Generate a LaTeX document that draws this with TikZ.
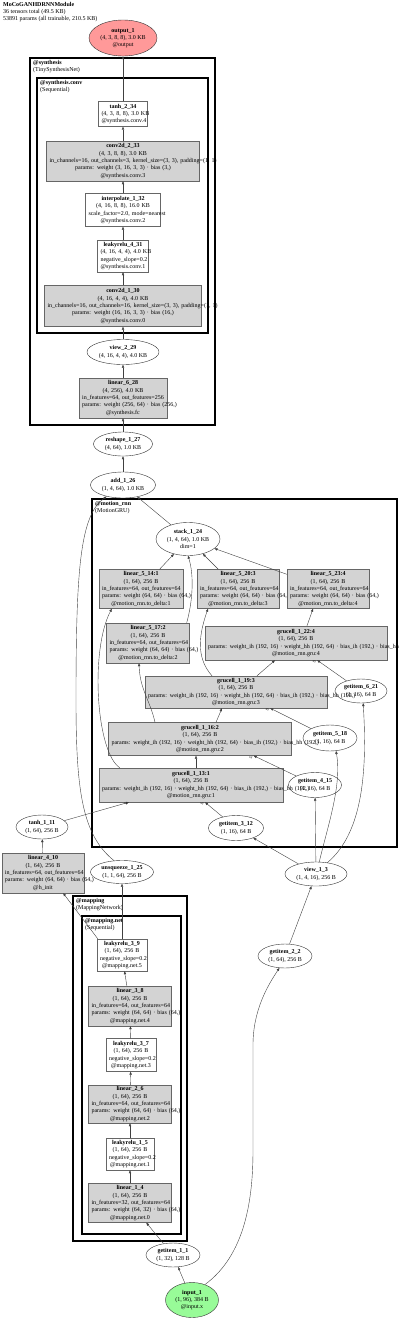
\documentclass[tikz,border=0pt]{standalone}
\usepackage{fontspec}
\setmainfont{Liberation Serif}
\usepackage{xcolor}
\usetikzlibrary{shapes.geometric, arrows.meta, positioning}

\definecolor{layergray}{RGB}{211,211,211}
\definecolor{outred}{RGB}{255,153,153}
\definecolor{ingreen}{RGB}{152,251,152}

\begin{document}
\begin{tikzpicture}[
    x=1pt, y=-1pt,
    every node/.style={font=\fontsize{6}{7.3}\selectfont},
    tensor/.style={ellipse, draw=black!80, inner sep=0pt, align=center},
    fnbox/.style={rectangle, draw=black!60, fill=white, inner xsep=3pt, inner ysep=0pt, align=center},
    layer/.style={rectangle, draw=black!60, fill=layergray, inner xsep=3pt, inner ysep=0pt, align=center},
    cluster/.style={draw=black, line width=2pt},
    clabel/.style={anchor=north west, align=left, inner sep=0pt},
    edge/.style={-{Triangle[length=3pt,width=2.4pt]}, draw=black!75, line width=0.4pt},
    argl/.style={font=\fontsize{3.5}{4}\selectfont, inner sep=0pt}
]
\useasboundingbox (0,0) rectangle (400,1319);

% header
\node (title) [clabel] at (3,2) {\textbf{MoCoGANHDRNNModule}\\36 tensors total (49.5 KB)\\53891 params (all trainable, 210.5 KB)};

% clusters
\draw [cluster] (30,58) rectangle (215,425);
\draw [cluster] (37,78) rectangle (208,333);
\draw [cluster] (92,499) rectangle (397,847);
\draw [cluster] (73,896) rectangle (187,1241);
\draw [cluster] (82,916) rectangle (181,1234);
\node (synthesis_lbl) [clabel] at (33,60) {\textbf{@synthesis}\\(TinySynthesisNet)};
\node (conv_lbl) [clabel] at (40,80) {\textbf{@synthesis.conv}\\(Sequential)};
\node (rnn_lbl) [clabel] at (95,501) {\textbf{@motion\_rnn}\\(MotionGRU)};
\node (mapping_lbl) [clabel] at (76,898) {\textbf{@mapping}\\(MappingNetwork)};
\node (net_lbl) [clabel] at (85,918) {\textbf{@mapping.net}\\(Sequential)};

% synthesis
\node (output_1) [tensor, fill=outred, minimum width=68pt, minimum height=36pt] at (123,38) {\textbf{output\_1}\\\mbox{(4, 3, 8, 8), 3.0 KB}\\@output};
\node (tanh_2_34) [fnbox, text width=43pt, minimum height=25pt] at (123,114) {\textbf{tanh\_2\_34}\\\mbox{(4, 3, 8, 8), 3.0 KB}\\@synthesis.conv.4};
\node (conv2d_2_33) [layer, text width=147pt, minimum height=40pt] at (123,161) {\textbf{conv2d\_2\_33}\\\mbox{(4, 3, 8, 8), 3.0 KB}\\\mbox{in\_channels=16, out\_channels=3, kernel\_size=(3, 3), padding=(1, 1)}\\\mbox{params: weight (3, 16, 3, 3) · bias (3,)}\\@synthesis.conv.3};
\node (interpolate_1_32) [fnbox, text width=69pt, minimum height=33pt] at (123,210) {\textbf{interpolate\_1\_32}\\\mbox{(4, 16, 8, 8), 16.0 KB}\\\mbox{scale\_factor=2.0, mode=nearest}\\@synthesis.conv.2};
\node (leakyrelu_4_31) [fnbox, text width=45pt, minimum height=32pt] at (123,256) {\textbf{leakyrelu\_4\_31}\\\mbox{(4, 16, 4, 4), 4.0 KB}\\negative\_slope=0.2\\@synthesis.conv.1};
\node (conv2d_1_30) [layer, text width=151pt, minimum height=41pt] at (123,306) {\textbf{conv2d\_1\_30}\\\mbox{(4, 16, 4, 4), 4.0 KB}\\\mbox{in\_channels=16, out\_channels=16, kernel\_size=(3, 3), padding=(1, 1)}\\\mbox{params: weight (16, 16, 3, 3) · bias (16,)}\\@synthesis.conv.0};
\node (view_2_29) [tensor, fill=white, minimum width=72pt, minimum height=25pt] at (123,352) {\textbf{view\_2\_29}\\\mbox{(4, 16, 4, 4), 4.0 KB}};
\node (linear_6_28) [layer, text width=82pt, minimum height=40pt] at (123,398) {\textbf{linear\_6\_28}\\\mbox{(4, 256), 4.0 KB}\\\mbox{in\_features=64, out\_features=256}\\\mbox{params: weight (256, 64) · bias (256,)}\\@synthesis.fc};
\node (reshape_1_27) [tensor, minimum width=59pt, minimum height=24pt] at (123,444) {\textbf{reshape\_1\_27}\\\mbox{(4, 64), 1.0 KB}};
\node (add_1_26) [tensor, minimum width=65pt, minimum height=26pt] at (123,485) {\textbf{add\_1\_26}\\\mbox{(1, 4, 64), 1.0 KB}};

% motion_rnn
\node (stack_1_24) [tensor, fill=white, minimum width=64pt, minimum height=33pt] at (188,539) {\textbf{stack\_1\_24}\\\mbox{(1, 4, 64), 1.0 KB}\\dim=1};
\node (linear_5_14) [layer, text width=78pt, minimum height=39pt] at (141,589) {\textbf{linear\_5\_14:1}\\\mbox{(1, 64), 256 B}\\\mbox{in\_features=64, out\_features=64}\\\mbox{params: weight (64, 64) · bias (64,)}\\@motion\_rnn.to\_delta:1};
\node (linear_5_20) [layer, text width=76pt, minimum height=39pt] at (238,589) {\textbf{linear\_5\_20:3}\\\mbox{(1, 64), 256 B}\\\mbox{in\_features=64, out\_features=64}\\\mbox{params: weight (64, 64) · bias (64,)}\\@motion\_rnn.to\_delta:3};
\node (linear_5_23) [layer, text width=76pt, minimum height=39pt] at (328,589) {\textbf{linear\_5\_23:4}\\\mbox{(1, 64), 256 B}\\\mbox{in\_features=64, out\_features=64}\\\mbox{params: weight (64, 64) · bias (64,)}\\@motion\_rnn.to\_delta:4};
\node (linear_5_17) [layer, text width=77pt, minimum height=40pt] at (148,643) {\textbf{linear\_5\_17:2}\\\mbox{(1, 64), 256 B}\\\mbox{in\_features=64, out\_features=64}\\\mbox{params: weight (64, 64) · bias (64,)}\\@motion\_rnn.to\_delta:2};
\node (grucell_1_22) [layer, text width=176pt, minimum height=34pt] at (296,643) {\textbf{grucell\_1\_22:4}\\\mbox{(1, 64), 256 B}\\\mbox{params: weight\_ih (192, 16) · weight\_hh (192, 64) · bias\_ih (192,) · bias\_hh (192,)}\\@motion\_rnn.gru:4};
\node (grucell_1_19) [layer, text width=176pt, minimum height=32pt] at (236,692) {\textbf{grucell\_1\_19:3}\\\mbox{(1, 64), 256 B}\\\mbox{params: weight\_ih (192, 16) · weight\_hh (192, 64) · bias\_ih (192,) · bias\_hh (192,)}\\@motion\_rnn.gru:3};
\node (grucell_1_16) [layer, text width=177pt, minimum height=33pt] at (200,739) {\textbf{grucell\_1\_16:2}\\\mbox{(1, 64), 256 B}\\\mbox{params: weight\_ih (192, 16) · weight\_hh (192, 64) · bias\_ih (192,) · bias\_hh (192,)}\\@motion\_rnn.gru:2};
\node (grucell_1_13) [layer, text width=178pt, minimum height=34pt] at (191,785) {\textbf{grucell\_1\_13:1}\\\mbox{(1, 64), 256 B}\\\mbox{params: weight\_ih (192, 16) · weight\_hh (192, 64) · bias\_ih (192,) · bias\_hh (192,)}\\@motion\_rnn.gru:1};
\node (getitem_6_21) [tensor, minimum width=52pt, minimum height=24pt] at (361,691) {\textbf{getitem\_6\_21}\\\mbox{(1, 16), 64 B}};
\node (getitem_5_18) [tensor, minimum width=54pt, minimum height=26pt] at (330,738) {\textbf{getitem\_5\_18}\\\mbox{(1, 16), 64 B}};
\node (getitem_4_15) [tensor, minimum width=53pt, minimum height=25pt] at (315,785) {\textbf{getitem\_4\_15}\\\mbox{(1, 16), 64 B}};
\node (getitem_3_12) [tensor, minimum width=55pt, minimum height=25pt] at (236,828) {\textbf{getitem\_3\_12}\\\mbox{(1, 16), 64 B}};

% h_init and inputs
\node (tanh_1_11) [tensor, minimum width=52pt, minimum height=24pt] at (42,827) {\textbf{tanh\_1\_11}\\\mbox{(1, 64), 256 B}};
\node (linear_4_10) [layer, text width=76pt, minimum height=40pt] at (43,873) {\textbf{linear\_4\_10}\\\mbox{(1, 64), 256 B}\\\mbox{in\_features=64, out\_features=64}\\\mbox{params: weight (64, 64) · bias (64,)}\\@h\_init};
\node (unsqueeze_1_25) [tensor, fill=white, minimum width=63pt, minimum height=23pt] at (122,872) {\textbf{unsqueeze\_1\_25}\\\mbox{(1, 1, 64), 256 B}};
\node (view_1_3) [tensor, fill=white, minimum width=62pt, minimum height=24pt] at (316,874) {\textbf{view\_1\_3}\\\mbox{(1, 4, 16), 256 B}};
\node (getitem_2_2) [tensor, minimum width=54pt, minimum height=24pt] at (285,956) {\textbf{getitem\_2\_2}\\\mbox{(1, 64), 256 B}};

% mapping
\node (leakyrelu_3_9) [fnbox, text width=44pt, minimum height=32pt] at (122,955) {\textbf{leakyrelu\_3\_9}\\\mbox{(1, 64), 256 B}\\negative\_slope=0.2\\@mapping.net.5};
\node (linear_3_8) [layer, text width=77pt, minimum height=40pt] at (130,1006) {\textbf{linear\_3\_8}\\\mbox{(1, 64), 256 B}\\\mbox{in\_features=64, out\_features=64}\\\mbox{params: weight (64, 64) · bias (64,)}\\@mapping.net.4};
\node (leakyrelu_3_7) [fnbox, text width=44pt, minimum height=33pt] at (131,1055) {\textbf{leakyrelu\_3\_7}\\\mbox{(1, 64), 256 B}\\negative\_slope=0.2\\@mapping.net.3};
\node (linear_2_6) [layer, text width=77pt, minimum height=38pt] at (130,1104) {\textbf{linear\_2\_6}\\\mbox{(1, 64), 256 B}\\\mbox{in\_features=64, out\_features=64}\\\mbox{params: weight (64, 64) · bias (64,)}\\@mapping.net.2};
\node (leakyrelu_1_5) [fnbox, text width=42pt, minimum height=32pt] at (130,1154) {\textbf{leakyrelu\_1\_5}\\\mbox{(1, 64), 256 B}\\negative\_slope=0.2\\@mapping.net.1};
\node (linear_1_4) [layer, text width=77pt, minimum height=39pt] at (130,1203) {\textbf{linear\_1\_4}\\\mbox{(1, 64), 256 B}\\\mbox{in\_features=32, out\_features=64}\\\mbox{params: weight (64, 32) · bias (64,)}\\@mapping.net.0};
\node (getitem_1_1) [tensor, minimum width=54pt, minimum height=24pt] at (173,1255) {\textbf{getitem\_1\_1}\\\mbox{(1, 32), 128 B}};
\node (input_1) [tensor, fill=ingreen, minimum width=53pt, minimum height=35pt] at (192,1300) {\textbf{input\_1}\\\mbox{(1, 96), 384 B}\\@input.x};

% edges: synthesis chain
\draw [edge] (add_1_26) -- (reshape_1_27);
\draw [edge] (reshape_1_27) -- (linear_6_28);
\draw [edge] (linear_6_28) -- (view_2_29);
\draw [edge] (view_2_29) -- (conv2d_1_30);
\draw [edge] (conv2d_1_30) -- (leakyrelu_4_31);
\draw [edge] (leakyrelu_4_31) -- (interpolate_1_32);
\draw [edge] (interpolate_1_32) -- (conv2d_2_33);
\draw [edge] (conv2d_2_33) -- (tanh_2_34);
\draw [edge] (tanh_2_34) -- (output_1);

% edges: motion_rnn
\draw [edge] (stack_1_24) -- (add_1_26);
\draw [edge] (linear_5_14) -- (stack_1_24);
\draw [edge] (linear_5_20) -- (stack_1_24);
\draw [edge] (linear_5_23) -- (stack_1_24);
\draw [edge] ([xshift=-3pt]linear_5_17.north east) .. controls (193,600) and (194,575) .. (stack_1_24.south);
\draw [edge] ([xshift=21pt]grucell_1_13.north west) .. controls (96,752) and (90,650) .. ([xshift=13pt]linear_5_14.south west);
\draw [edge] ([xshift=-45pt]grucell_1_16.north) .. controls (150,700) and (140,690) .. ([xshift=-9pt]linear_5_17.south);
\draw [edge] ([xshift=-24pt]grucell_1_19.north) .. controls (198,660) and (197,640) .. ([xshift=-30pt]linear_5_20.south);
\draw [edge] ([xshift=5pt]grucell_1_13.north) -- ([xshift=-4pt]grucell_1_16.south);
\draw [edge] ([xshift=16pt]grucell_1_16.north) -- ([xshift=-14pt]grucell_1_19.south);
\draw [edge] ([xshift=21pt]grucell_1_19.north) -- ([xshift=-21pt]grucell_1_22.south);
\draw [edge] ([xshift=11pt]grucell_1_22.north) -- ([xshift=-15pt]linear_5_23.south);
\draw [edge] (getitem_3_12) -- ([xshift=14pt]grucell_1_13.south);
\draw [edge] (getitem_4_15) -- ([xshift=-38pt]grucell_1_16.south east);
\draw [edge] (getitem_5_18) -- ([xshift=-57pt]grucell_1_19.south east);
\draw [edge] (getitem_6_21) -- ([xshift=-70pt]grucell_1_22.south east);
\draw [edge] (tanh_1_11) -- ([xshift=-62pt]grucell_1_13.south);
\node (arg_13a) [argl, anchor=north east] at ([xshift=-63pt,yshift=-0.5pt]grucell_1_13.south) {xy};
\node (arg_13b) [argl, anchor=north east] at ([xshift=13pt,yshift=-0.5pt]grucell_1_13.south) {xy};
\node (arg_16) [argl, anchor=north east] at ([xshift=-39pt,yshift=-0.5pt]grucell_1_16.south east) {xy};
\node (arg_19) [argl, anchor=north east] at ([xshift=-58pt,yshift=-0.5pt]grucell_1_19.south east) {xy};
\node (arg_22) [argl, anchor=north east] at ([xshift=-71pt,yshift=-0.5pt]grucell_1_22.south east) {xy};

% edges: inputs
\draw [edge] (view_1_3) -- (getitem_3_12);
\draw [edge] (view_1_3) -- (getitem_4_15);
\draw [edge] (view_1_3.75) .. controls (328,825) and (342,785) .. (getitem_5_18.-65);
\draw [edge] (view_1_3.45) .. controls (360,835) and (368,780) .. (getitem_6_21.-80);
\draw [edge] (getitem_2_2) -- (view_1_3);
\draw [edge] (input_1.50) .. controls (245,1255) and (253,1200) .. (253,1150) -- (253,1045) .. controls (253,1010) and (268,985) .. (getitem_2_2.245);
\draw [edge] (input_1) -- (getitem_1_1);
\draw [edge] (getitem_1_1) -- (linear_1_4);
\draw [edge] (linear_1_4) -- (leakyrelu_1_5);
\draw [edge] (leakyrelu_1_5) -- (linear_2_6);
\draw [edge] (linear_2_6) -- (leakyrelu_3_7);
\draw [edge] (leakyrelu_3_7) -- (linear_3_8);
\draw [edge] (linear_3_8) -- (leakyrelu_3_9);
\draw [edge] (leakyrelu_3_9) -- (unsqueeze_1_25);
\draw [edge] ([xshift=1pt]leakyrelu_3_9.north west) -- ([xshift=-21pt]linear_4_10.south east);
\draw [edge] (linear_4_10) -- (tanh_1_11);
\draw [edge] (unsqueeze_1_25.125) .. controls (82,835) and (76,790) .. (76,700) .. controls (76,570) and (80,515) .. (add_1_26.215);

\end{tikzpicture}
\end{document}
